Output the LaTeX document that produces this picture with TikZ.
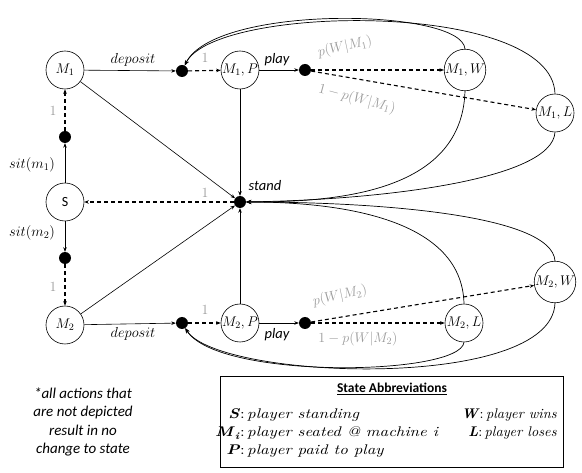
\RequirePackage{fix-cm}
\documentclass[tikz,border=0pt]{standalone}
\usepackage{fontspec}
\setsansfont{Carlito}
\newfontfamily\legfont{lmroman10-regular.otf}[FakeStretch=1.2,ItalicFont=lmroman10-italic.otf,BoldFont=lmroman10-bold.otf,BoldItalicFont=lmroman10-bolditalic.otf]
\newfontfamily\legfontn{lmroman10-regular.otf}[FakeStretch=1.02,ItalicFont=lmroman10-italic.otf,BoldFont=lmroman10-bold.otf,BoldItalicFont=lmroman10-bolditalic.otf]
\usetikzlibrary{arrows.meta}
\definecolor{lblgray}{RGB}{155,155,155}
\tikzset{
  state/.style={circle,draw,line width=0.6pt,minimum size=38pt,inner sep=0pt,font=\fontsize{14}{15}\selectfont},
  dot/.style={circle,fill=black,minimum size=12pt,inner sep=0pt},
  sarr/.style={line width=0.6pt,-{Stealth[length=4.5pt,width=3.5pt]}},
  darr/.style={line width=1.1pt,dash pattern=on 4pt off 3pt,-{Stealth[length=4.5pt,width=3.5pt]}},
  carr/.style={line width=0.7pt,-{Stealth[length=5pt,width=4pt]}},
  glbl/.style={text=lblgray,font=\fontsize{14}{16}\selectfont,inner sep=1pt},
  mlbl/.style={font=\fontsize{14.5}{16}\selectfont},
  slbl/.style={font=\sffamily\itshape\fontsize{14.5}{16}\selectfont},
  leg/.style={font=\legfont\fontsize{14}{16}\selectfont,inner sep=0pt},
  legr/.style={font=\legfontn\fontsize{14}{16}\selectfont,inner sep=0pt}
}
\begin{document}
\begin{tikzpicture}[x=1pt,y=-1pt]
\useasboundingbox (0,0) rectangle (582,473);
% states
\node[state] (M1) at (65,70) {$M_1$};
\node[state] (S) at (65,202) {\sffamily\fontsize{14}{15}\selectfont S};
\node[state] (M2) at (65,325) {$M_2$};
\node[state] (M1P) at (240,70) {$M_1,P$};
\node[state] (M2P) at (240,323) {$M_2,P$};
\node[state] (M1W) at (465,70) {$M_1,W$};
\node[state] (M1L) at (555,113) {$M_1,L$};
\node[state] (M2L) at (464,323) {$M_2,L$};
\node[state] (M2W) at (555,282) {$M_2,W$};
% dots
\node[dot] (dep1) at (182,71) {};
\node[dot] (play1) at (305,70) {};
\node[dot] (sit1) at (65,137) {};
\node[dot] (stand) at (240,202) {};
\node[dot] (sit2) at (65,258) {};
\node[dot] (dep2) at (182,323) {};
\node[dot] (play2) at (305,323) {};
% straight connectors
\draw[sarr] (M1) -- (dep1);
\draw[darr] (dep1) -- (M1P);
\draw[sarr] (M1P) -- (play1);
\draw[darr] (play1) -- (M1W);
\draw[darr] (play1) -- (M1L);
\draw[sarr] (M1) -- (stand);
\draw[sarr] (M1P) -- (stand);
\draw[sarr] (S) -- (sit1);
\draw[darr] (sit1) -- (M1);
\draw[darr] (stand) -- (S);
\draw[sarr] (S) -- (sit2);
\draw[darr] (sit2) -- (M2);
\draw[sarr] (M2) -- (stand);
\draw[sarr] (M2P) -- (stand);
\draw[sarr] (M2) -- (dep2);
\draw[darr] (dep2) -- (M2P);
\draw[sarr] (M2P) -- (play2);
\draw[darr] (play2) -- (M2L);
\draw[darr] (play2) -- (M2W);
% curved connectors
\draw[carr] (M1W.north) .. controls (462,8) and (215,4) .. (dep1);
\draw[carr] (M1L.north) .. controls (552,0) and (215,4) .. (dep1);
\draw[carr] (M1W.south) .. controls (462,195) and (330,202) .. (stand);
\draw[carr] (M1L.south) .. controls (552,180) and (380,200) .. (stand);
\draw[carr] (M2L.north) .. controls (462,215) and (330,202) .. (stand);
\draw[carr] (M2W.north) .. controls (552,215) and (380,202) .. (stand);
\draw[carr] (M2L.south) .. controls (460,376) and (218,380) .. (dep2);
\draw[carr] (M2W.south) .. controls (552,392) and (218,380) .. (dep2);
% labels
\node[mlbl] (ldep1) at (133,60) {$deposit$};
\node[mlbl] (ldep2) at (133,334) {$deposit$};
\node[slbl] (lplay1) at (277,60) {play};
\node[slbl] (lplay2) at (277,335) {play};
\node[slbl] (lstand) at (265,186) {stand};
\node[mlbl] (lsit1) at (32,165) {$sit(m_1)$};
\node[mlbl] (lsit2) at (32,233) {$sit(m_2)$};
\node[glbl] (g1) at (53,111) {$1$};
\node[glbl] (g2) at (53,287) {$1$};
\node[glbl] (g3) at (205,58) {$1$};
\node[glbl] (g4) at (205,310) {$1$};
\node[glbl] (g5) at (205,193) {$1$};
\node[glbl,rotate=12] (pw1) at (345,47) {$p(W|M_1)$};
\node[glbl,rotate=-15] (pl1) at (357,99) {$1-p(W|M_1)$};
\node[glbl,rotate=12] (pw2) at (340,296) {$p(W|M_2)$};
\node[glbl] (pl2) at (358,339) {$1-p(W|M_2)$};
% footnote
\node[font=\sffamily\itshape\fontsize{15}{18.5}\selectfont,align=center] (foot) at (83,422) {*all actions that\\are not depicted\\result in no\\change to state};
% legend
\node[draw,line width=0.7pt,minimum width=343pt,minimum height=91pt,inner sep=0pt] (box) at (392,421.5) {};
\node[font=\sffamily\bfseries\fontsize{13.5}{15}\selectfont,anchor=base] (title) at (392,393) {\underline{State Abbreviations}};
\node[leg,anchor=base east] (kS) at (245,419) {\textbf{\textit{S}}:};
\node[leg,anchor=base west] (tS) at (247,419) {\textit{player standing}};
\node[leg,anchor=base east] (kM) at (245,437) {\textbf{\textit{M}}\textsubscript{\textbf{\textit{i}}}:};
\node[leg,anchor=base west] (tM) at (247,437) {\textit{player seated @ machine i}};
\node[leg,anchor=base east] (kP) at (245,455) {\textbf{\textit{P}}:};
\node[leg,anchor=base west] (tP) at (247,455) {\textit{player paid to play}};
\node[legr,anchor=base east] (tW) at (557,419) {\textbf{\textit{W}}:\,\textit{player wins}};
\node[legr,anchor=base east] (tL) at (557,437) {\textbf{\textit{L}}:\,\textit{player loses}};
\end{tikzpicture}
\end{document}
